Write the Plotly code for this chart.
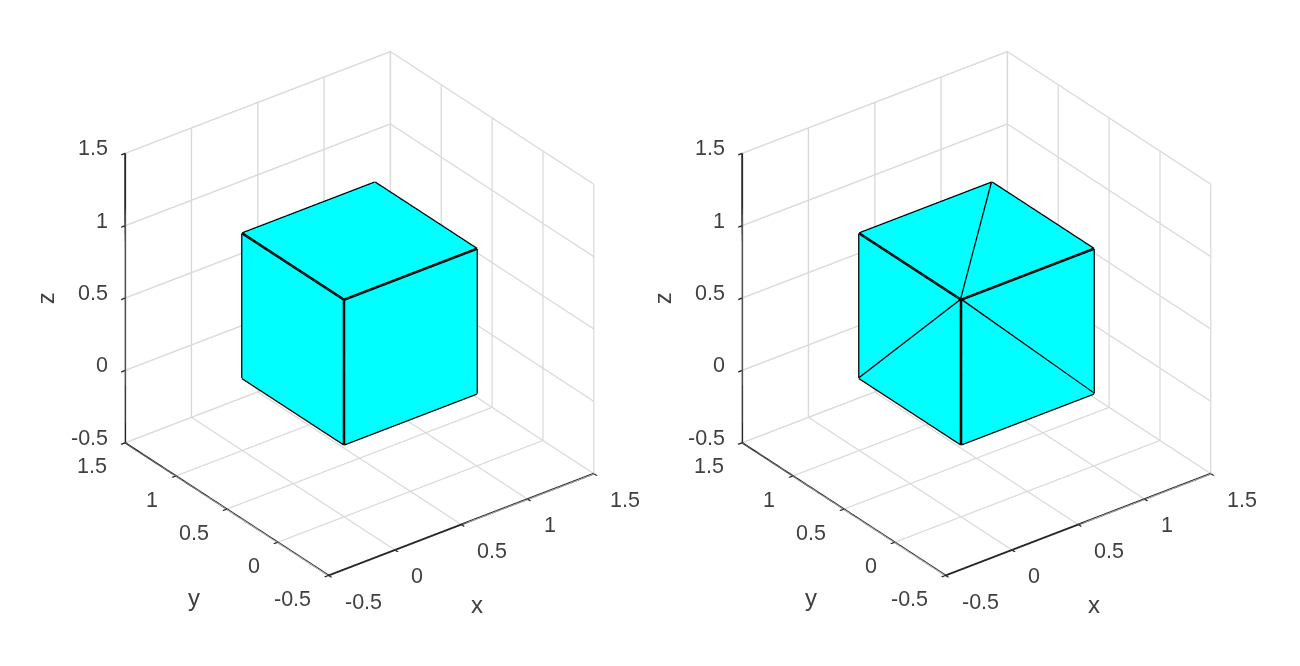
import plotly.graph_objects as go

# cube vertices
vx = [0, 1, 1, 0, 0, 1, 1, 0]
vy = [0, 0, 1, 1, 0, 0, 1, 1]
vz = [0, 0, 0, 0, 1, 1, 1, 1]

# triangles of the surface
tri_i = [0, 0, 0, 0, 4, 4, 1, 1, 3, 3, 0, 0]
tri_j = [1, 2, 1, 5, 5, 6, 2, 6, 2, 6, 3, 7]
tri_k = [2, 3, 5, 4, 6, 7, 6, 5, 6, 7, 7, 4]

# outlines: left = quad faces, right = triangles including the visible diagonals
quad_edges = [(0,1),(1,2),(2,3),(3,0),(4,5),(5,6),(6,7),(7,4),(0,4),(1,5),(2,6),(3,7)]
tri_edges = quad_edges + [(4,6),(4,1),(4,3)]

ticks = [-0.5, 0, 0.5, 1, 1.5]
tick_text = ["-0.5", "0", "0.5", "1", "1.5"]
FONT = "Liberation Sans"
TXT = "#404040"
GRID = "#d9d9d9"
TICK_SIZE = 21.5
TITLE_SIZE = 24


def edge_xyz(edges):
    xs, ys, zs = [], [], []
    for a, b in edges:
        xs += [vx[a], vx[b], None]
        ys += [vy[a], vy[b], None]
        zs += [vz[a], vz[b], None]
    return xs, ys, zs


def axis():
    return dict(
        title=dict(text=""),
        range=[-0.5, 1.5], tickvals=ticks, ticktext=tick_text,
        showticklabels=False,
        showgrid=True, gridcolor=GRID, gridwidth=3,
        showbackground=False, zeroline=False,
        showline=True, linecolor="#262626", linewidth=4,
        ticks="outside", ticklen=5, tickcolor="#262626", tickwidth=3,
        showspikes=False,
    )


def label(x, y, z, text, xanchor, xshift, yshift, size=TICK_SIZE, angle=0):
    return dict(x=x, y=y, z=z, text=text, showarrow=False, xanchor=xanchor, yanchor="middle",
                xshift=xshift, yshift=yshift, textangle=angle,
                font=dict(family=FONT, size=size, color=TXT))


def annotations():
    out = []
    for t, s in zip(ticks, tick_text):
        out.append(label(t, -0.5, -0.5, s, "left", 14, -26))
        out.append(label(-0.5, t, -0.5, s, "right", -16, -23.5))
        out.append(label(-0.5, 1.5, t, s, "right", -15, 5))
    out.append(label(0.5, -0.5, -0.5, "x", "center", 16, -80, TITLE_SIZE))
    out.append(label(-0.5, 0.5, -0.5, "y", "center", -33, -88, TITLE_SIZE))
    out.append(label(-0.5, 1.5, 0.5, "z", "center", -80, 0, TITLE_SIZE, -90))
    return out


def scene(cx, cy_top):
    return dict(
        domain=dict(x=[cx/1300 - 0.235, cx/1300 + 0.235], y=[1 - cy_top/666 - 0.45, 1 - cy_top/666 + 0.45]),
        aspectmode="manual", aspectratio=dict(x=1.116, y=1.116, z=1.116),
        xaxis=axis(), yaxis=axis(), zaxis=axis(),
        annotations=annotations(),
        camera=dict(
            projection=dict(type="orthographic"),
            eye=dict(x=-0.527*1.76, y=-0.687*1.76, z=0.5*1.76),
            center=dict(x=0, y=0, z=0), up=dict(x=0, y=0, z=1),
        ),
    )


fig = go.Figure()
for name, edges in (("scene", quad_edges), ("scene2", tri_edges)):
    fig.add_trace(go.Mesh3d(x=vx, y=vy, z=vz, i=tri_i, j=tri_j, k=tri_k, color="#00ffff",
                            flatshading=True, scene=name, hoverinfo="skip",
                            lighting=dict(ambient=1, diffuse=0, specular=0, roughness=1, fresnel=0)))
    ex, ey, ez = edge_xyz(edges)
    fig.add_trace(go.Scatter3d(x=ex, y=ey, z=ez, mode="lines", line=dict(color="#000000", width=5),
                               scene=name, hoverinfo="skip", showlegend=False))

fig.update_layout(
    width=1300, height=666, margin=dict(l=0, r=0, t=0, b=0),
    paper_bgcolor="white", showlegend=False,
    scene=scene(351.5, 305.5), scene2=scene(968.5, 305.5),
)
fig.write_html("out.html")
